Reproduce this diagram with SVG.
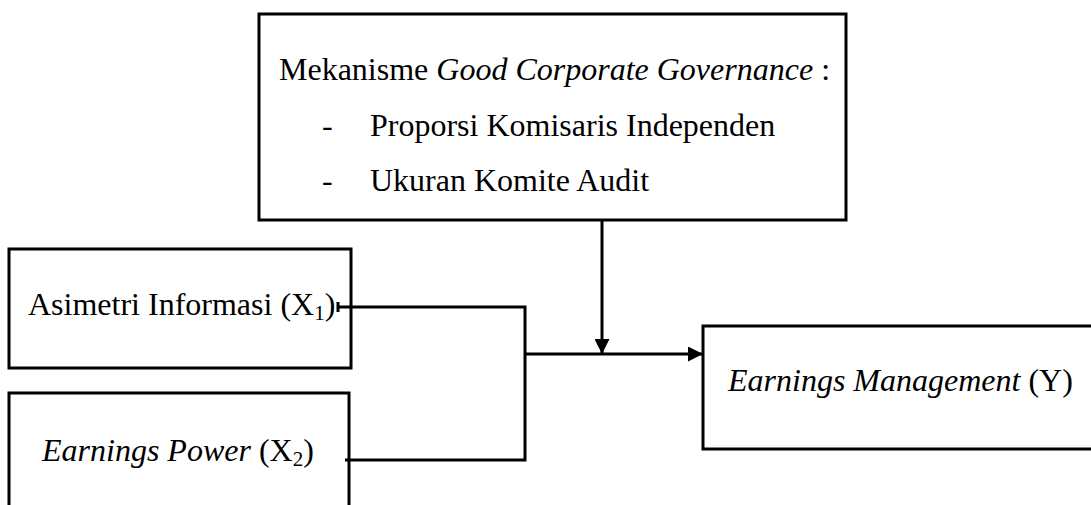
<svg xmlns="http://www.w3.org/2000/svg" width="1091" height="505" viewBox="0 0 1091 505">
  <style>
    .box { fill: #fff; stroke: #000; stroke-width: 3; }
    .t { font-family: "Liberation Serif", "Times New Roman", serif; font-size: 32px; fill: #000; }
    .i { font-style: italic; }
    .sub { font-size: 21px; }
    .ln { fill: none; stroke: #000; stroke-width: 3; }
  </style>
  <defs>
    <marker id="ah" viewBox="0 0 10 10" refX="10" refY="5" markerWidth="5" markerHeight="5" markerUnits="strokeWidth" orient="auto">
      <path d="M0,0 L10,5 L0,10 Z" fill="#000"/>
    </marker>
  </defs>
  <rect width="1091" height="505" fill="#fff"/>

  <g id="gcg">
    <rect class="box" x="259" y="14" width="587" height="206"/>
    <text class="t" x="279" y="80">Mekanisme <tspan class="i">Good Corporate Governance</tspan> :</text>
    <text class="t" x="322" y="136">-</text>
    <text class="t" x="370" y="136">Proporsi Komisaris Independen</text>
    <text class="t" x="322" y="191">-</text>
    <text class="t" x="370" y="191">Ukuran Komite Audit</text>
  </g>

  <g id="x1">
    <rect class="box" x="9" y="249" width="342" height="119"/>
    <text class="t" x="28" y="315">Asimetri Informasi (X<tspan class="sub" dy="5">1</tspan><tspan dy="-5">)</tspan></text>
  </g>

  <g id="x2">
    <rect class="box" x="9" y="393" width="340" height="130"/>
    <text class="t" x="42" y="461"><tspan class="i">Earnings Power</tspan> (X<tspan class="sub" dy="5">2</tspan><tspan dy="-5">)</tspan></text>
  </g>

  <g id="y">
    <rect class="box" x="703" y="326" width="400" height="123"/>
    <text class="t" x="728" y="391"><tspan class="i">Earnings Management</tspan> (Y)</text>
  </g>

  <g id="connectors">
    <path class="ln" d="M338 302 V312"/>
    <path class="ln" d="M337 307 H525 V460 H345"/>
    <path class="ln" d="M525 354 H703" marker-end="url(#ah)"/>
    <path class="ln" d="M602 220 V354" marker-end="url(#ah)"/>
  </g>
</svg>
